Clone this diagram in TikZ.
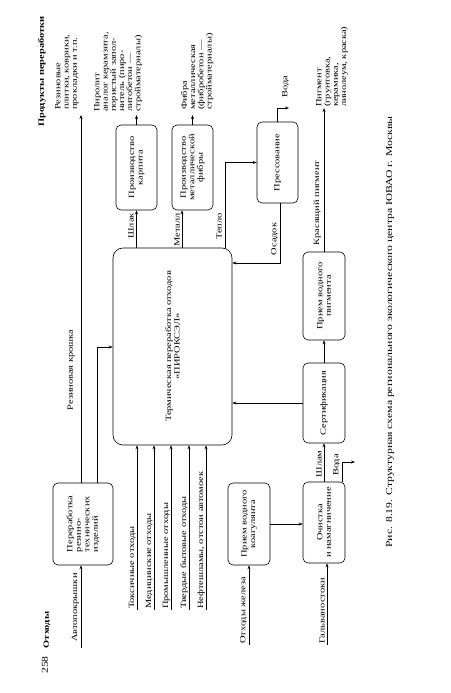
\documentclass[tikz,border=0pt]{standalone}
\usepackage{fontspec}
\setmainfont{Liberation Serif}[FakeStretch=1.3]
\usetikzlibrary{arrows.meta}

\tikzset{
  box/.style={draw, line width=0.6pt, rounded corners=5pt, align=center, inner sep=2pt, font=\fontsize{8}{8.5}\selectfont},
  lbl/.style={inner sep=1pt, font=\fontsize{8}{8.5}\selectfont},
  txt/.style={inner sep=0pt, align=left, font=\fontsize{8}{8.2}\selectfont},
  flow/.style={->, line width=0.6pt}
}

\begin{document}
\begin{tikzpicture}[x=1pt, y=1pt, >={Stealth[length=4pt,width=3pt]}]
\begin{scope}[rotate=90, transform shape]
  \useasboundingbox (0,0) rectangle (693,450);
  \def\prodx{578}  % where the product arrows stop

  % Headings and page number
  \node[lbl, font=\fontsize{9}{9}\selectfont] (page) at (28,405) {258};
  \node[lbl, font=\bfseries\fontsize{8}{8.5}\selectfont] (wasteHead) at (63,403) {Отходы};
  \node[lbl, anchor=west, font=\bfseries\fontsize{8}{8.5}\selectfont] (prodHead) at (565,408) {Продукты переработки};

  % The process boxes
  \node[box, align=left, minimum width=82, minimum height=60] (rti) at (169,367) {Переработка\\резино-\\технических\\изделий};
  \node[box, rounded corners=10pt, minimum width=197, minimum height=119] (main) at (346.5,277.5) {Термическая переработка отходов\\«ПИРОКСЭЛ»};
  \node[box, minimum width=85, minimum height=41] (karpit) at (525.5,313.5) {Производство\\карпита};
  \node[box, minimum width=85, minimum height=41] (fibra) at (525.5,257.5) {Производство\\металлической\\фибры};
  \node[box, minimum width=81, minimum height=41] (press) at (530.5,172.5) {Прессование};
  \node[box, minimum width=88, minimum height=42] (pigm) at (397,126) {Прием водного\\пигмента};
  \node[box, minimum width=80, minimum height=42] (sert) at (290,126) {Сертификация};
  \node[box, minimum width=81, minimum height=42] (ochist) at (170.5,126) {Очистка\\и намагничение};
  \node[box, minimum width=82, minimum height=42] (koag) at (169,201) {Прием водного\\коагулянта};

  % Tyres in, rubber products out
  \coordinate (tyreIn) at (45,369);
  \draw[flow] (tyreIn) -- (tyreIn -| rti.west);
  \node[lbl, anchor=south west] (tyreLbl) at (50,370) {Автопокрышки};
  \coordinate (rubberOut) at (\prodx,369);
  \draw[flow] (rubberOut -| rti.east) -- (rubberOut);
  \coordinate (crumbTurn) at (346,353);
  \draw[flow] (crumbTurn -| rti.east) -- (crumbTurn) -- (crumbTurn |- main.north);
  \node[lbl] (crumbLbl) at (323,379) {Резиновая крошка};

  % Wastes into the main box
  \foreach \y/\nm/\txt in {313/tox/Токсичные отходы, 296/med/Медицинские отходы,
      279/ind/Промышленные отходы, 261/tbo/Твердые бытовые отходы,
      244/oil/{Нефтешламы, отстои автомоек}} {
    \coordinate (\nm) at (83,\y);
    \draw[flow] (\nm) -- (\nm -| main.west);
    \node[lbl, anchor=south west] (\nm-l) at (\nm) {\txt};
  }

  % Outputs of the main box
  \coordinate (prodX) at (\prodx,0);
  \draw[flow] (karpit.west -| main.east) -- (karpit.west);
  \node[lbl, anchor=south east] (slagLbl) at (481,315) {Шлак};
  \draw[flow] (karpit.east) -- (karpit.east -| prodX);
  \coordinate (metal) at (464,268);
  \draw[flow] (metal -| main.east) -- (metal -| fibra.west);
  \node[lbl, anchor=south east] (metalLbl) at (481,269) {Металл};
  \draw[flow] (fibra.east) -- (fibra.east -| prodX);
  \coordinate (heatTurn) at (530.5,225);
  \draw[flow] (heatTurn -| main.east) -- (heatTurn) -- (press.north);
  \node[lbl, anchor=south east] (heatLbl) at (481,227) {Тепло};

  % Pressing
  \coordinate (waterTurn) at (585,173);
  \coordinate (waterOut) at (585,161);
  \draw[flow] (waterTurn -| press.east) -- (waterTurn) -- (waterOut);
  \node[lbl, anchor=south west] (waterLbl) at (594,160) {Вода};
  \coordinate (sludgeTurn) at (430,170);
  \draw[flow] (sludgeTurn -| press.west) -- (sludgeTurn) -- (sludgeTurn |- main.south);
  \node[lbl, anchor=south] (sludgeLbl) at (454,171) {Осадок};

  % Pigment line
  \draw[flow] (sert.north) -- (sert.north |- main.south);
  \draw[flow] (sert.east) -- (pigm.west);
  \coordinate (pigmOut) at (585,126);
  \draw[flow] (pigm.east) -- (pigmOut);
  \node[lbl, anchor=south] (pigmLbl) at (490,128) {Красящий пигмент};
  \draw[flow] (ochist.east) -- (sert.west);
  \node[lbl, anchor=south] (shlamLbl) at (229,127) {Шлам};
  \coordinate (drainTurn) at (231,108);
  \coordinate (drainOut) at (231,95);
  \draw[flow] (drainTurn -| ochist.east) -- (drainTurn) -- (drainOut);
  \node[lbl, anchor=south] (drainLbl) at (228,109) {Вода};
  \draw[flow] (koag.south) -- (koag.south |- ochist.north);
  \coordinate (ironIn) at (48,201);
  \draw[flow] (ironIn) -- (koag.west);
  \node[lbl, anchor=south west] (ironLbl) at (48,202) {Отходы железа};
  \coordinate (galvIn) at (48,123);
  \draw[flow] (galvIn) -- (galvIn -| ochist.west);
  \node[lbl, anchor=south west] (galvLbl) at (48,124) {Гальваностоки};

  % Products
  \node[txt, anchor=north west] (rubberTxt) at (583,395) {Резиновые\\плитки, коврики,\\прокладки и т.п.};
  \node[txt, anchor=north west] (pyroTxt) at (581,356) {Пиролит\\аналог керамзита,\\пористый запол-\\нитель (пиро-\\литобетон ---\\стройматериалы)};
  \node[txt, anchor=north west] (fibreTxt) at (583,269) {Фибра\\металлическая\\(фибробетон ---\\стройматериалы)};
  \node[txt, anchor=north west] (pigmTxt) at (586,134) {Пигмент\\(грунтовка,\\керамика,\\линолеум, краска)};

  % Caption
  \node[lbl, font=\fontsize{9}{9}\selectfont] (caption) at (361,60) {Рис. 8.19. Структурная схема регионального экологического центра ЮВАО г. Москвы};
\end{scope}
\end{tikzpicture}
\end{document}
